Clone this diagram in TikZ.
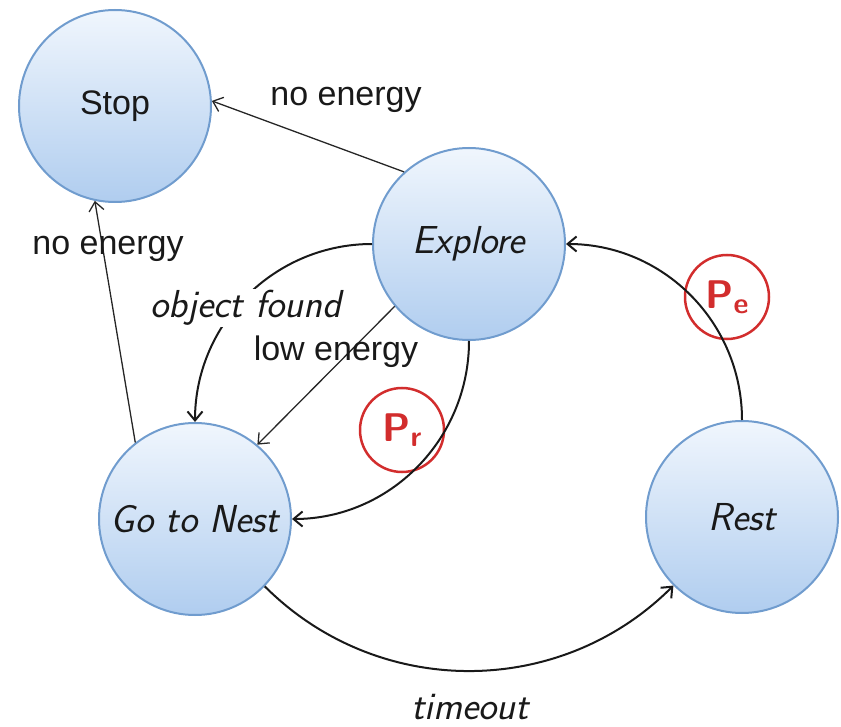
\documentclass[tikz,border=0pt]{standalone}
\usepackage{fontspec}
\newfontfamily\arial{Liberation Sans}
\usetikzlibrary{arrows.meta}
\definecolor{bordbleu}{RGB}{112,156,206}
\definecolor{hautbleu}{RGB}{240,246,253}
\definecolor{basbleu}{RGB}{176,205,239}
\definecolor{rouge}{RGB}{210,45,45}
\newcommand{\indice}[1]{{\fontsize{29}{29}\selectfont\raisebox{-5pt}{#1}}}
\tikzset{
  etat/.style={circle, draw=bordbleu, line width=2pt, top color=hautbleu,
    bottom color=basbleu, minimum size=192pt, inner sep=0pt, text=black!90},
  proba/.style={circle, draw=rouge, line width=2.5pt, minimum size=84pt,
    inner sep=0pt, text=rouge, font=\fontsize{40}{48}\selectfont\sffamily\bfseries},
  etiq/.style={font=\fontsize{39}{46}\selectfont\sffamily\itshape\addfontfeatures{FakeBold=0.6},
    text=black!90},
  etiqa/.style={font=\fontsize{34}{40}\selectfont\arial, text=black!90},
  fleche/.style={->, line width=1.3pt, black!85},
  courbe/.style={->, line width=2pt, black!90}
}
\begin{document}
\begin{tikzpicture} [x=1pt, y=-1pt, >={Straight Barb[length=9pt,width=15pt]}]% ------ Automate -----------------
    \useasboundingbox (0,0) rectangle (841,727);
    \node [etat, etiqa] (stop) at (115,106) {Stop};
    \node [etat, etiq] (explore) at (469,244) {Explore};
    \node [etat, etiq] (nest) at (195,519) {Go to Nest};
    \node [etat, etiq] (rest) at (742,517) {Rest};
    \node [proba] (pr) at (402,430) {P\indice{r}};
    \node [proba] (pe) at (727,297) {P\indice{e}};
    \draw [fleche] (explore.132) -- (stop.3);
    \draw [fleche] (nest.128) -- (stop.258);
    \draw [fleche] (explore.220) -- (nest.50);
    \draw [courbe] (explore.180) to [out=180, in=90] (nest.90);
    \draw [courbe] (explore.270) to [out=-90, in=0] (nest.0);
    \draw [courbe] (nest.-44) to [out=-45, in=-135] (rest.-135);
    \draw [courbe] (rest.90) to [out=90, in=0] (explore.0);
    \node [etiqa] (energie1) at (346,100) {no energy};
    \node [etiqa] (energie2) at (108,249) {no energy};
    \node [etiq, fill=white, inner sep=1pt] (objet) at (246,308) {object found};
    \node [etiqa] (energie3) at (336,352) {low energy};
    \node [etiq] (temps) at (470,707) {timeout};
\end{tikzpicture}
\end{document}
